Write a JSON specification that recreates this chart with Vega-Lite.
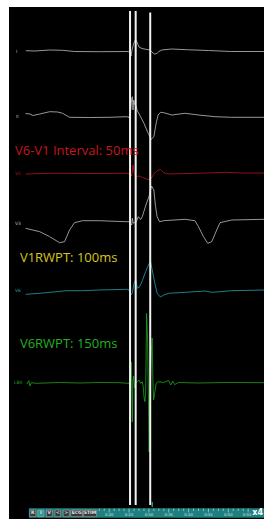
{
  "$schema": "https://vega.github.io/schema/vega-lite/v6.json",
  "width": 266,
  "height": 519,
  "autosize": {"type": "fit", "contains": "padding"},
  "padding": {"left": 9, "top": 7, "right": 0, "bottom": 0},
  "background": "white",
  "config": {"view": {"fill": "black", "stroke": null}},
  "datasets": {
    "traces": [
      {"lead": "I", "t": -787.5, "v": 468.3}, {"lead": "I", "t": -720, "v": 468}, {"lead": "I", "t": -607.5, "v": 469}, {"lead": "I", "t": -510, "v": 468.7}, {"lead": "I", "t": -420, "v": 467.5}, {"lead": "I", "t": -232.5, "v": 467.3}, {"lead": "I", "t": -22.5, "v": 467.5}, {"lead": "I", "t": 0, "v": 467}, {"lead": "I", "t": 7.5, "v": 463}, {"lead": "I", "t": 15, "v": 469}, {"lead": "I", "t": 26.25, "v": 475}, {"lead": "I", "t": 41.25, "v": 479.7}, {"lead": "I", "t": 52.5, "v": 477}, {"lead": "I", "t": 67.5, "v": 472}, {"lead": "I", "t": 90, "v": 470.5}, {"lead": "I", "t": 127.5, "v": 469.5}, {"lead": "I", "t": 150, "v": 469}, {"lead": "I", "t": 165, "v": 467}, {"lead": "I", "t": 183.75, "v": 465}, {"lead": "I", "t": 202.5, "v": 465.5}, {"lead": "I", "t": 217.5, "v": 467.5}, {"lead": "I", "t": 240, "v": 469}, {"lead": "I", "t": 315, "v": 470}, {"lead": "I", "t": 442.5, "v": 469.2}, {"lead": "I", "t": 592.5, "v": 468.5}, {"lead": "I", "t": 765, "v": 467.5}, {"lead": "I", "t": 1012.5, "v": 467.5},
      {"lead": "II", "t": -790, "v": 405.5}, {"lead": "II", "t": -757.5, "v": 405}, {"lead": "II", "t": -735, "v": 403.5}, {"lead": "II", "t": -682.5, "v": 405}, {"lead": "II", "t": -607.5, "v": 407.3}, {"lead": "II", "t": -547.5, "v": 407}, {"lead": "II", "t": -510, "v": 405.7}, {"lead": "II", "t": -457.5, "v": 401.7}, {"lead": "II", "t": -307.5, "v": 401.5}, {"lead": "II", "t": -157.5, "v": 401.7}, {"lead": "II", "t": -22.5, "v": 402.3}, {"lead": "II", "t": -7.5, "v": 401.5}, {"lead": "II", "t": 5.25, "v": 409}, {"lead": "II", "t": 11.25, "v": 419}, {"lead": "II", "t": 17.25, "v": 422.3}, {"lead": "II", "t": 22.5, "v": 409}, {"lead": "II", "t": 27.75, "v": 419}, {"lead": "II", "t": 33.75, "v": 415}, {"lead": "II", "t": 45, "v": 413}, {"lead": "II", "t": 54.75, "v": 408.3}, {"lead": "II", "t": 72.75, "v": 404}, {"lead": "II", "t": 105, "v": 395.7}, {"lead": "II", "t": 137.25, "v": 385.7}, {"lead": "II", "t": 159.75, "v": 379.7}, {"lead": "II", "t": 180, "v": 382.3}, {"lead": "II", "t": 197.25, "v": 395.7}, {"lead": "II", "t": 212.25, "v": 404}, {"lead": "II", "t": 230.25, "v": 406.7}, {"lead": "II", "t": 255, "v": 406.3}, {"lead": "II", "t": 315, "v": 404}, {"lead": "II", "t": 415.5, "v": 405.7}, {"lead": "II", "t": 517.5, "v": 404}, {"lead": "II", "t": 642.75, "v": 402.3}, {"lead": "II", "t": 765, "v": 401.7}, {"lead": "II", "t": 1012.5, "v": 401.7},
      {"lead": "V1", "t": -790, "v": 345}, {"lead": "V1", "t": -607.5, "v": 345.7}, {"lead": "V1", "t": -232.5, "v": 345.5}, {"lead": "V1", "t": -22.5, "v": 345.7}, {"lead": "V1", "t": 5.25, "v": 345}, {"lead": "V1", "t": 12.75, "v": 343}, {"lead": "V1", "t": 22.5, "v": 354}, {"lead": "V1", "t": 32.25, "v": 345.7}, {"lead": "V1", "t": 42.75, "v": 342.3}, {"lead": "V1", "t": 67.5, "v": 343}, {"lead": "V1", "t": 92.25, "v": 341.7}, {"lead": "V1", "t": 129.75, "v": 339.7}, {"lead": "V1", "t": 155.25, "v": 339.7}, {"lead": "V1", "t": 180, "v": 345}, {"lead": "V1", "t": 204.75, "v": 348.3}, {"lead": "V1", "t": 230.25, "v": 349.5}, {"lead": "V1", "t": 255, "v": 346.3}, {"lead": "V1", "t": 292.5, "v": 345}, {"lead": "V1", "t": 442.5, "v": 345.5}, {"lead": "V1", "t": 592.5, "v": 346}, {"lead": "V1", "t": 720, "v": 346.7}, {"lead": "V1", "t": 855, "v": 346}, {"lead": "V1", "t": 1012.5, "v": 346},
      {"lead": "V3", "t": -790, "v": 290.7}, {"lead": "V3", "t": -682.5, "v": 287.3}, {"lead": "V3", "t": -607.5, "v": 282.3}, {"lead": "V3", "t": -532.5, "v": 276.3}, {"lead": "V3", "t": -495, "v": 277.3}, {"lead": "V3", "t": -457.5, "v": 289}, {"lead": "V3", "t": -420, "v": 296.3}, {"lead": "V3", "t": -357.75, "v": 298.3}, {"lead": "V3", "t": -232.5, "v": 298.3}, {"lead": "V3", "t": -32.25, "v": 297.3}, {"lead": "V3", "t": -7.5, "v": 297.3}, {"lead": "V3", "t": 12.75, "v": 294}, {"lead": "V3", "t": 17.25, "v": 300.7}, {"lead": "V3", "t": 24.75, "v": 295.7}, {"lead": "V3", "t": 47.25, "v": 297.3}, {"lead": "V3", "t": 62.25, "v": 302.3}, {"lead": "V3", "t": 80.25, "v": 299.5}, {"lead": "V3", "t": 92.25, "v": 302.3}, {"lead": "V3", "t": 120, "v": 314}, {"lead": "V3", "t": 142.5, "v": 322.3}, {"lead": "V3", "t": 162.75, "v": 333}, {"lead": "V3", "t": 180, "v": 329}, {"lead": "V3", "t": 192.75, "v": 312.3}, {"lead": "V3", "t": 204.75, "v": 302.3}, {"lead": "V3", "t": 222.75, "v": 297.3}, {"lead": "V3", "t": 255, "v": 298.3}, {"lead": "V3", "t": 415.5, "v": 299.7}, {"lead": "V3", "t": 490.5, "v": 298.3}, {"lead": "V3", "t": 517.5, "v": 292.3}, {"lead": "V3", "t": 555, "v": 282.3}, {"lead": "V3", "t": 587.5, "v": 275.7}, {"lead": "V3", "t": 617.5, "v": 277.3}, {"lead": "V3", "t": 655, "v": 289}, {"lead": "V3", "t": 680, "v": 296.3}, {"lead": "V3", "t": 767.5, "v": 299}, {"lead": "V3", "t": 1012.5, "v": 299.7},
      {"lead": "V6", "t": -790, "v": 224.7}, {"lead": "V6", "t": -682.5, "v": 225.7}, {"lead": "V6", "t": -557.5, "v": 227.3}, {"lead": "V6", "t": -482.5, "v": 228.3}, {"lead": "V6", "t": -357.5, "v": 228.3}, {"lead": "V6", "t": -232.5, "v": 229}, {"lead": "V6", "t": -20, "v": 229.7}, {"lead": "V6", "t": -7.5, "v": 229}, {"lead": "V6", "t": 7.5, "v": 224}, {"lead": "V6", "t": 17.5, "v": 226.3}, {"lead": "V6", "t": 30, "v": 235.7}, {"lead": "V6", "t": 42.5, "v": 239.7}, {"lead": "V6", "t": 55, "v": 230.7}, {"lead": "V6", "t": 72.5, "v": 232.3}, {"lead": "V6", "t": 92.5, "v": 238.3}, {"lead": "V6", "t": 117.5, "v": 247.3}, {"lead": "V6", "t": 142.5, "v": 255}, {"lead": "V6", "t": 155, "v": 257.3}, {"lead": "V6", "t": 167.5, "v": 249}, {"lead": "V6", "t": 187.5, "v": 235.7}, {"lead": "V6", "t": 205, "v": 225.7}, {"lead": "V6", "t": 230, "v": 222}, {"lead": "V6", "t": 255, "v": 224}, {"lead": "V6", "t": 292.5, "v": 225.7}, {"lead": "V6", "t": 417.5, "v": 226.7}, {"lead": "V6", "t": 567.5, "v": 228}, {"lead": "V6", "t": 617.5, "v": 226.7}, {"lead": "V6", "t": 767.5, "v": 228.3}, {"lead": "V6", "t": 1012.5, "v": 229},
      {"lead": "LB0", "t": -780, "v": 135}, {"lead": "LB0", "t": -765, "v": 138.3}, {"lead": "LB0", "t": -757.5, "v": 133}, {"lead": "LB0", "t": -745, "v": 136.3}, {"lead": "LB0", "t": -707.5, "v": 135.7}, {"lead": "LB0", "t": -532.5, "v": 136.5}, {"lead": "LB0", "t": -382.5, "v": 136}, {"lead": "LB0", "t": -232.5, "v": 136.5}, {"lead": "LB0", "t": -82.5, "v": 136.3}, {"lead": "LB0", "t": -7.5, "v": 135.7}, {"lead": "LB0", "t": 3.75, "v": 139}, {"lead": "LB0", "t": 9.75, "v": 157}, {"lead": "LB0", "t": 13.5, "v": 127}, {"lead": "LB0", "t": 17.25, "v": 97}, {"lead": "LB0", "t": 21, "v": 139}, {"lead": "LB0", "t": 26.25, "v": 143}, {"lead": "LB0", "t": 33.75, "v": 131}, {"lead": "LB0", "t": 41.25, "v": 136}, {"lead": "LB0", "t": 54.75, "v": 137.3}, {"lead": "LB0", "t": 67.5, "v": 139}, {"lead": "LB0", "t": 80.25, "v": 135.7}, {"lead": "LB0", "t": 92.25, "v": 137.3}, {"lead": "LB0", "t": 99.75, "v": 132.3}, {"lead": "LB0", "t": 105, "v": 122.3}, {"lead": "LB0", "t": 112.5, "v": 117.3}, {"lead": "LB0", "t": 117.75, "v": 125.7}, {"lead": "LB0", "t": 125.25, "v": 205.7}, {"lead": "LB0", "t": 132.75, "v": 179}, {"lead": "LB0", "t": 138.75, "v": 119}, {"lead": "LB0", "t": 144, "v": 67}, {"lead": "LB0", "t": 150, "v": 119}, {"lead": "LB0", "t": 161.25, "v": 169}, {"lead": "LB0", "t": 167.25, "v": 181}, {"lead": "LB0", "t": 172.5, "v": 139}, {"lead": "LB0", "t": 177.75, "v": 119}, {"lead": "LB0", "t": 187.5, "v": 127}, {"lead": "LB0", "t": 197.25, "v": 135.7}, {"lead": "LB0", "t": 212.25, "v": 137.3}, {"lead": "LB0", "t": 255, "v": 136.5}, {"lead": "LB0", "t": 292.5, "v": 138.5}, {"lead": "LB0", "t": 307.5, "v": 134}, {"lead": "LB0", "t": 322.5, "v": 138}, {"lead": "LB0", "t": 337.5, "v": 134.5}, {"lead": "LB0", "t": 367.5, "v": 136.5}, {"lead": "LB0", "t": 517.5, "v": 136}, {"lead": "LB0", "t": 742.5, "v": 136.5}, {"lead": "LB0", "t": 1012.5, "v": 136.3}
    ],
    "leadlabels": [
      {"lead": "I", "t": -862.5, "v": 467.5},
      {"lead": "II", "t": -862.5, "v": 401.7},
      {"lead": "V1", "t": -870, "v": 345.5},
      {"lead": "V3", "t": -870, "v": 295},
      {"lead": "V6", "t": -870, "v": 228},
      {"lead": "LB0", "t": -877.5, "v": 136}
    ],
    "markers": [
      {"t": 0, "v": 14, "v2": 508},
      {"t": 42.5, "v": 14, "v2": 508},
      {"t": 152.5, "v": 14, "v2": 506.5}
    ],
    "note1": [{"text": "V6-V1 Interval: 50ms", "t": -870, "v": 364}],
    "note2": [{"text": "V1RWPT: 100ms", "t": -832.5, "v": 257.5}],
    "note3": [{"text": "V6RWPT: 150ms", "t": -832.5, "v": 171}],
    "bar": [{"t": -765, "t2": 1012.5, "v": 1.3, "v2": 10.7}],
    "buttons": [
      {"name": "R", "t": -757.5, "t2": -712.5, "v": 2.3, "v2": 9},
      {"name": "V", "t": -632.5, "t2": -587.5, "v": 2.3, "v2": 9},
      {"name": "<", "t": -567.5, "t2": -525, "v": 2.3, "v2": 9},
      {"name": ">", "t": -505, "t2": -460, "v": 2.3, "v2": 9},
      {"name": "ECG", "t": -447.5, "t2": -360, "v": 2.3, "v2": 9},
      {"name": "STIM", "t": -352.5, "t2": -252.5, "v": 2.3, "v2": 9}
    ],
    "activebutton": [{"name": "I", "t": -697.5, "t2": -652.5, "v": 2.3, "v2": 9}],
    "buttonlabels": [
      {"label": "R", "t": -735, "v": 5.6},
      {"label": "I", "t": -675, "v": 5.6},
      {"label": "V", "t": -610, "v": 5.6},
      {"label": "<", "t": -546, "v": 5.6},
      {"label": ">", "t": -482.5, "v": 5.6},
      {"label": "ECG", "t": -403.5, "v": 5.6},
      {"label": "STIM", "t": -302.5, "v": 5.6}
    ],
    "ticks": [
      {"t": -232.5, "v": 8, "v2": 10.5}, {"t": -195, "v": 8, "v2": 10.5}, {"t": -157.5, "v": 6.5, "v2": 10.5}, {"t": -120, "v": 8, "v2": 10.5}, {"t": -82.5, "v": 8, "v2": 10.5}, {"t": -45, "v": 8, "v2": 10.5}, {"t": -7.5, "v": 6.5, "v2": 10.5}, {"t": 30, "v": 8, "v2": 10.5}, {"t": 67.5, "v": 8, "v2": 10.5}, {"t": 105, "v": 8, "v2": 10.5}, {"t": 142.5, "v": 6.5, "v2": 10.5}, {"t": 180, "v": 8, "v2": 10.5}, {"t": 217.5, "v": 8, "v2": 10.5}, {"t": 255, "v": 8, "v2": 10.5}, {"t": 292.5, "v": 6.5, "v2": 10.5}, {"t": 330, "v": 8, "v2": 10.5}, {"t": 367.5, "v": 8, "v2": 10.5}, {"t": 405, "v": 8, "v2": 10.5}, {"t": 442.5, "v": 6.5, "v2": 10.5}, {"t": 480, "v": 8, "v2": 10.5}, {"t": 517.5, "v": 8, "v2": 10.5}, {"t": 555, "v": 8, "v2": 10.5}, {"t": 592.5, "v": 6.5, "v2": 10.5}, {"t": 630, "v": 8, "v2": 10.5}, {"t": 667.5, "v": 8, "v2": 10.5}, {"t": 705, "v": 8, "v2": 10.5}, {"t": 742.5, "v": 6.5, "v2": 10.5}, {"t": 780, "v": 8, "v2": 10.5}, {"t": 817.5, "v": 8, "v2": 10.5}, {"t": 855, "v": 8, "v2": 10.5}, {"t": 892.5, "v": 6.5, "v2": 10.5}
    ],
    "ticklabels": [
      {"label": "0:20", "t": -157.5, "v": 3.6}, {"label": "0:25", "t": -7.5, "v": 3.6}, {"label": "0:30", "t": 142.5, "v": 3.6}, {"label": "0:35", "t": 292.5, "v": 3.6}, {"label": "0:40", "t": 442.5, "v": 3.6}, {"label": "0:45", "t": 592.5, "v": 3.6}, {"label": "0:50", "t": 742.5, "v": 3.6}, {"label": "0:55", "t": 885, "v": 3.6}
    ],
    "cursor": [{"t": 167.5, "v": 12, "v2": 17}],
    "zoomlabel": [{"label": "x4", "t": 1005, "v": 6}]
  },
  "encoding": {
    "x": {"field": "t", "type": "quantitative", "scale": {"domain": [-915, 1012.5], "nice": false, "zero": false}, "axis": null},
    "y": {"field": "v", "type": "quantitative", "scale": {"domain": [0, 512], "nice": false, "zero": false}, "axis": null}
  },
  "layer": [
    {
      "data": {"name": "traces"},
      "mark": {"type": "line", "strokeWidth": 0.8, "interpolate": "linear"},
      "encoding": {
        "color": {"field": "lead", "type": "nominal", "scale": {"domain": ["I", "II", "V1", "V3", "V6", "LB0"], "range": ["#bdbdbd", "#bdbdbd", "#b8121c", "#bdbdbd", "#24a0aa", "#1ea41e"]}, "legend": null}
      }
    },
    {
      "data": {"name": "leadlabels"},
      "mark": {"type": "text", "align": "left", "baseline": "middle", "fontSize": 4.5, "font": "DejaVu Sans"},
      "encoding": {
        "text": {"field": "lead"},
        "color": {"field": "lead", "type": "nominal", "legend": null}
      }
    },
    {
      "data": {"name": "markers"},
      "mark": {"type": "rule", "color": "#f2f2f2", "strokeWidth": 2},
      "encoding": {"y2": {"field": "v2"}}
    },
    {
      "data": {"name": "note1"},
      "mark": {"type": "text", "align": "left", "baseline": "alphabetic", "fontSize": 13, "font": "Open Sans", "color": "#c8141e"},
      "encoding": {"text": {"field": "text"}}
    },
    {
      "data": {"name": "note2"},
      "mark": {"type": "text", "align": "left", "baseline": "alphabetic", "fontSize": 13, "font": "Open Sans", "color": "#d6c81c"},
      "encoding": {"text": {"field": "text"}}
    },
    {
      "data": {"name": "note3"},
      "mark": {"type": "text", "align": "left", "baseline": "alphabetic", "fontSize": 13, "font": "Open Sans", "color": "#22b022"},
      "encoding": {"text": {"field": "text"}}
    },
    {
      "data": {"name": "bar"},
      "mark": {"type": "rect", "color": "#1f7f7f"},
      "encoding": {"x2": {"field": "t2"}, "y2": {"field": "v2"}}
    },
    {
      "data": {"name": "buttons"},
      "mark": {"type": "rect", "fill": "#3a3a3a", "stroke": "#a8a8a8", "strokeWidth": 0.6},
      "encoding": {"x2": {"field": "t2"}, "y2": {"field": "v2"}}
    },
    {
      "data": {"name": "activebutton"},
      "mark": {"type": "rect", "fill": "#2e9a9a", "stroke": "#a8a8a8", "strokeWidth": 0.6},
      "encoding": {"x2": {"field": "t2"}, "y2": {"field": "v2"}}
    },
    {
      "data": {"name": "buttonlabels"},
      "mark": {"type": "text", "align": "center", "baseline": "middle", "fontSize": 4.5, "fontWeight": "bold", "font": "DejaVu Sans", "color": "#e6e6e6"},
      "encoding": {"text": {"field": "label"}}
    },
    {
      "data": {"name": "ticks"},
      "mark": {"type": "rule", "color": "#cfe8e8", "strokeWidth": 0.6},
      "encoding": {"y2": {"field": "v2"}}
    },
    {
      "data": {"name": "ticklabels"},
      "mark": {"type": "text", "align": "center", "baseline": "middle", "fontSize": 3.8, "font": "DejaVu Sans", "color": "#cfe8e8"},
      "encoding": {"text": {"field": "label"}}
    },
    {
      "data": {"name": "cursor"},
      "mark": {"type": "rule", "color": "#3cc8c8", "strokeWidth": 1},
      "encoding": {"y2": {"field": "v2"}}
    },
    {
      "data": {"name": "zoomlabel"},
      "mark": {"type": "text", "align": "right", "baseline": "middle", "fontSize": 8, "fontWeight": "bold", "font": "DejaVu Sans", "color": "#ffffff"},
      "encoding": {"text": {"field": "label"}}
    }
  ]
}
